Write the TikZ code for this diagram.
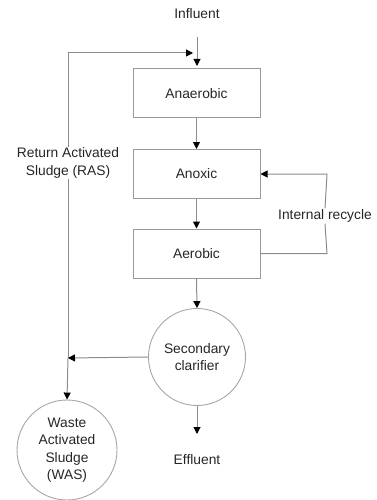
\documentclass[tikz,border=0pt]{standalone}
\usepackage{fontspec}
\setmainfont{Liberation Sans}
\usetikzlibrary{arrows.meta}
\begin{document}
\begin{tikzpicture}[x=1pt,y=-1pt,
  ln/.style={draw=black!45,line width=1pt},
  arr/.style={ln,-{Triangle[length=7pt,width=7pt,black]}},
  boxn/.style={draw=black!40,line width=1pt,minimum width=127pt,minimum height=49pt,inner sep=0pt},
  circn/.style={draw=black!35,line width=0.9pt,circle,inner sep=0pt,align=center},
  lbl/.style={font=\fontsize{13.8}{17.5}\selectfont,text=black!85,align=center,inner sep=1pt}]
\useasboundingbox (0,0) rectangle (377,500);
\node[lbl] (inf) at (197,14) {Influent};
\coordinate (inftop) at (197,37);
\node[boxn,lbl] (ana) at (196.5,93.5) {Anaerobic};
\node[boxn,lbl] (anx) at (196.5,174) {Anoxic};
\node[boxn,lbl] (aer) at (196.5,253.5) {Aerobic};
\node[circn,lbl,minimum size=97pt] (clar) at (197,357) {Secondary\\clarifier};
\node[circn,lbl,minimum size=100pt] (was) at (67,450) {Waste\\Activated\\Sludge\\(WAS)};
\node[lbl] (eff) at (197,460) {Effluent};
\node[lbl,fill=white] (ras) at (68,163) {Return Activated\\Sludge (RAS)};
\node[lbl,fill=white] (irc) at (325,216) {Internal recycle};
% influent
\draw[arr] (inftop) -- (197,66);
% flow
\draw[arr] (ana.south) -- (anx.north);
\draw[arr] (anx.south) -- (aer.north);
\draw[arr] (aer.south) -- (clar.north);
\draw[arr] (clar.south) -- (197,434);
% internal recycle
\coordinate (ir1) at (327,253.5);
\coordinate (ir2) at (327,174);
\draw[ln] (aer.east) -- (ir1) -- (irc.south);
\draw[arr] (irc.north) -- (ir2) -- (anx.east);
% RAS
\coordinate (r1) at (68,53);
\coordinate (r2) at (68,358);
\draw[arr] (ras.north) -- (r1) -- (193,53);
\draw[ln] (ras.south) -- (r2);
\draw[arr] (r2) -- (was.north);
\draw[arr] (clar.west) -- (r2);
\end{tikzpicture}
\end{document}
